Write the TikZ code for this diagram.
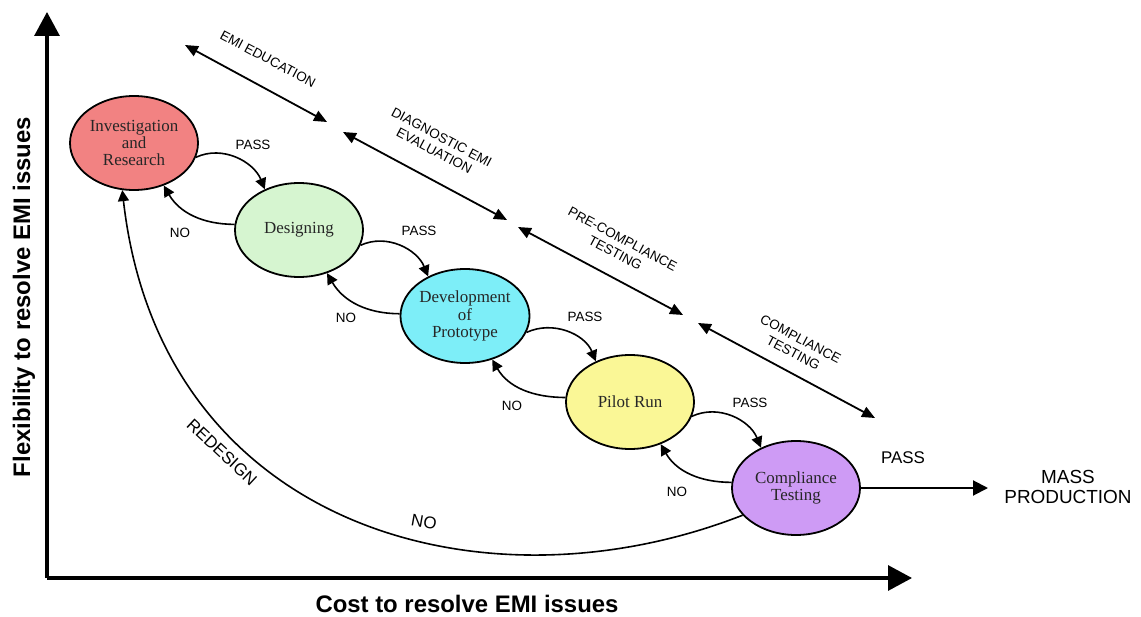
\documentclass[tikz,border=0pt]{standalone}
\usepackage{fontspec}
\setmainfont{Liberation Serif}
\setsansfont{Liberation Sans}
\usetikzlibrary{arrows.meta,shapes.geometric}
\definecolor{invc}{RGB}{242,130,130}
\definecolor{desc}{RGB}{214,245,208}
\definecolor{devc}{RGB}{125,238,248}
\definecolor{pilc}{RGB}{250,247,150}
\definecolor{comc}{RGB}{206,155,245}
\begin{document}
\begin{tikzpicture}[x=1bp,y=1bp,
  stage/.style={ellipse, draw=black, line width=1.8bp, minimum width=128bp, minimum height=94bp,
    inner sep=0pt, align=center, font=\fontsize{17}{17.5}\selectfont, text=black!85},
  conn/.style={line width=1.6bp, -{Triangle[length=11bp,width=11bp]}},
  dbl/.style={line width=1.8bp, {Triangle[length=13bp,width=11bp]}-{Triangle[length=13bp,width=11bp]}},
  axis/.style={line width=3.2bp, -{Triangle[length=24bp,width=25bp]}},
  big/.style={line width=2bp, -{Triangle[length=15bp,width=15bp]}},
  lab/.style={font=\sffamily\fontsize{13.5}{15}\selectfont, align=center, inner sep=0pt},
  dlab/.style={font=\sffamily\fontsize{13.5}{15.5}\selectfont, align=center, inner sep=0pt, rotate=-28},
  mlab/.style={font=\sffamily\fontsize{17}{19}\selectfont, align=center, inner sep=0pt},
  axlab/.style={font=\sffamily\bfseries\fontsize{24}{28}\selectfont, inner sep=0pt, anchor=base}]
\useasboundingbox (0,0) rectangle (1141,-617);

% axes
\coordinate (O) at (47,-578);
\coordinate (ytip) at (47,-12);
\coordinate (xtip) at (912,-578);
\draw[axis] (O) -- (ytip);
\draw[axis] (O) -- (xtip);
\node[axlab] (xl) at (467,-612) {Cost to resolve EMI issues};
\node[axlab, rotate=90] (yl) at (30,-297) {Flexibility to resolve EMI issues};

% stages
\node[stage, fill=invc] (inv) at (134,-143) {Investigation\\and\\Research};
\node[stage, fill=desc] (des) at (299,-230) {Designing};
\node[stage, fill=devc] (dev) at (465,-316) {Development\\of\\Prototype};
\node[stage, fill=pilc] (pil) at (630,-402) {Pilot Run};
\node[stage, fill=comc] (com) at (796,-488) {Compliance\\Testing};

% PASS connectors
\draw[conn] (inv.-13) to[out=25,in=112] (des.130);
\draw[conn] (des.-14) to[out=25,in=112] (dev.133);
\draw[conn] (dev.-15) to[out=25,in=112] (pil.130);
\draw[conn] (pil.-13) to[out=25,in=112] (com.131);
\node[lab] (p1) at (253,-145) {PASS};
\node[lab] (p2) at (419,-231) {PASS};
\node[lab] (p3) at (585,-317) {PASS};
\node[lab] (p4) at (750,-403) {PASS};

% NO connectors
\draw[conn] (des.175) to[out=180,in=-60] (inv.-55);
\draw[conn] (dev.178) to[out=180,in=-60] (des.-57);
\draw[conn] (pil.176) to[out=180,in=-60] (dev.-58);
\draw[conn] (com.175) to[out=180,in=-60] (pil.-54);
\node[lab] (n1) at (180,-233) {NO};
\node[lab] (n2) at (346,-318) {NO};
\node[lab] (n3) at (512,-406) {NO};
\node[lab] (n4) at (677,-492) {NO};

% redesign
\draw[conn] (com.207) .. controls (480,-618) and (160,-525) .. (inv.256);
\node[mlab, rotate=-43] (rd) at (222,-452) {REDESIGN};
\node[mlab, rotate=-10] (rno) at (424,-522) {NO};

% mass production
\coordinate (mp) at (988,-488);
\draw[big] (com.east) -- (mp);
\node[mlab] (mpass) at (903,-458) {PASS};
\node[font=\sffamily\fontsize{19}{21}\selectfont, align=center, inner sep=0pt] (mass) at (1068,-487) {MASS\\PRODUCTION};

% diagonal phase arrows
\coordinate (a1) at (185,-45);  \coordinate (b1) at (327,-122);
\coordinate (a2) at (343,-132); \coordinate (b2) at (507,-220);
\coordinate (a3) at (518,-227); \coordinate (b3) at (683,-315);
\coordinate (a4) at (698,-323); \coordinate (b4) at (875,-418);
\draw[dbl] (a1) -- (b1);
\draw[dbl] (a2) -- (b2);
\draw[dbl] (a3) -- (b3);
\draw[dbl] (a4) -- (b4);
\node[dlab] (l1) at (268,-59) {EMI EDUCATION};
\node[dlab] (l2) at (438,-144) {DIAGNOSTIC EMI\\EVALUATION};
\node[dlab] (l3) at (619,-246) {PRE-COMPLIANCE\\TESTING};
\node[dlab] (l4) at (797,-346) {COMPLIANCE\\TESTING};
\end{tikzpicture}
\end{document}
